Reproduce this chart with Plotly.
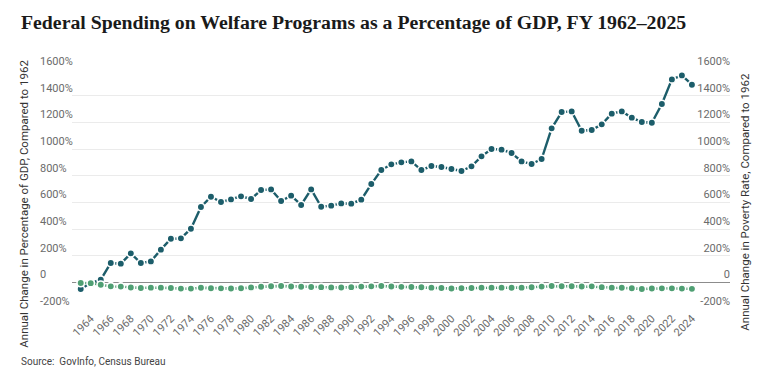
import plotly.graph_objects as go

years = list(range(1963, 2025))

welfare_gdp_change = [
    -50, -5, 20, 145, 140, 217, 145, 157, 245, 327,
    330, 402, 565, 642, 602, 622, 645, 625, 692, 697,
    610, 650, 580, 697, 567, 575, 592, 590, 620, 737,
    842, 885, 900, 907, 842, 872, 865, 850, 835, 870,
    945, 1000, 995, 970, 907, 887, 925, 1155, 1277, 1282,
    1137, 1142, 1185, 1265, 1282, 1235, 1202, 1197, 1337, 1522,
    1552, 1482,
]

poverty_rate_change = [
    -5, -6, -18, -30, -32, -39, -42, -40, -40, -43,
    -47, -47, -41, -44, -45, -46, -44, -38, -33, -29,
    -28, -31, -33, -35, -36, -38, -39, -36, -32, -30,
    -28, -31, -34, -35, -37, -40, -43, -46, -44, -42,
    -40, -40, -40, -41, -40, -37, -32, -28, -29, -29,
    -31, -30, -36, -40, -41, -44, -50, -46, -45, -45,
    -47, -49,
]

x_tick_years = list(range(1964, 2025, 2))
y_ticks = [-200, 0, 200, 400, 600, 800, 1000, 1200, 1400, 1600]
y_tick_text = ["-200%", "0", "200%", "400%", "600%", "800%", "1000%", "1200%", "1400%", "1600%"]

title_text = "Federal Spending on Welfare Programs as a Percentage of GDP, FY 1962\u20132025"
left_title = "Annual Change in Percentage of GDP, Compared to 1962"
right_title = "Annual Change in Poverty Rate, Compared to 1962"
source_text = "Source:  GovInfo, Census Bureau"

DARK = "#1c5d6a"
GREEN = "#4f9f73"

# the page body adds an 8px margin; the figure is sized/placed to compensate
OFF = 8
W, H = 754, 367
ML, MR = 28, 29
MT = 69.3 - OFF
MB = H - (309.3 - OFF)
pw = W - ML - MR
ph = H - MT - MB


def px_x(sx):
    return (sx - OFF - ML) / pw


def px_y(sy):
    return (H - MB - (sy - OFF)) / ph


Y_RANGE = [-200, 1600]

fig = go.Figure()
fig.add_trace(go.Scatter(
    x=years, y=welfare_gdp_change, mode="lines+markers", name="Welfare spending",
    line=dict(color=DARK, width=2.4),
    marker=dict(color=DARK, size=7.5, line=dict(color="white", width=1.6)), yaxis="y",
))
fig.add_trace(go.Scatter(
    x=years, y=poverty_rate_change, mode="lines+markers", name="Poverty rate",
    line=dict(color=GREEN, width=2.4),
    marker=dict(color=GREEN, size=7.5, line=dict(color="white", width=1.6)), yaxis="y",
))
# invisible anchors so the label-only axes get drawn
for ax in ("y2", "y3"):
    fig.add_trace(go.Scatter(x=[years[0]], y=[0], mode="markers", yaxis=ax,
                             marker=dict(opacity=0), hoverinfo="skip", showlegend=False))

tick_font = dict(family="Roboto, Arial, sans-serif", size=11, color="#6b6b6b")
axis_title_font = dict(family="Roboto, Arial, sans-serif", size=11.5, color="#333333")

fig.update_layout(
    width=W, height=H,
    margin=dict(l=ML, r=MR, t=MT, b=MB, autoexpand=False),
    paper_bgcolor="white", plot_bgcolor="white",
    showlegend=False,
    xaxis=dict(
        domain=[px_x(72), px_x(730)],
        range=[1962.13, 2027.8],
        tickmode="array", tickvals=x_tick_years,
        ticktext=[str(y) for y in x_tick_years],
        tickangle=-45, tickfont=tick_font,
        showgrid=False, zeroline=False, showline=False, ticks="",
        anchor="y", automargin=False,
    ),
    yaxis=dict(
        range=Y_RANGE, tickmode="array", tickvals=y_ticks,
        showticklabels=False, anchor="x",
        showgrid=True, gridcolor="#ebebeb", gridwidth=1,
        zeroline=True, zerolinecolor="#8c8c8c", zerolinewidth=1,
        showline=False, ticks="", automargin=False,
    ),
    yaxis2=dict(
        range=Y_RANGE, tickmode="array", tickvals=y_ticks, ticktext=y_tick_text,
        tickfont=tick_font, overlaying="y", side="right", anchor="free", position=1,
        ticklabelposition="inside top", ticklabeloverflow="allow",
        showgrid=False, zeroline=False, showline=False, ticks="", automargin=False,
    ),
    yaxis3=dict(
        range=Y_RANGE, tickmode="array", tickvals=y_ticks, ticktext=y_tick_text,
        tickfont=tick_font, overlaying="y", side="left", anchor="free", position=0,
        ticklabelposition="inside top", ticklabeloverflow="allow",
        showgrid=False, zeroline=False, showline=False, ticks="", automargin=False,
    ),
)

fig.add_annotation(
    text="<b>" + title_text + "</b>", xref="paper", yref="paper",
    x=px_x(19), y=px_y(22), xanchor="left", yanchor="middle",
    showarrow=False, font=dict(family="Liberation Serif, Times New Roman, serif", size=19.8, color="#1a1a1a"),
)
fig.add_annotation(
    text=left_title, xref="paper", yref="paper", textangle=-90,
    x=px_x(24), y=px_y(204), xanchor="center", yanchor="middle",
    showarrow=False, font=axis_title_font,
)
fig.add_annotation(
    text=right_title, xref="paper", yref="paper", textangle=-90,
    x=px_x(745), y=px_y(202), xanchor="center", yanchor="middle",
    showarrow=False, font=axis_title_font,
)
fig.add_annotation(
    text=source_text, xref="paper", yref="paper",
    x=px_x(19), y=px_y(362), xanchor="left", yanchor="middle",
    showarrow=False, font=dict(family="Roboto, Arial, sans-serif", size=10, color="#444444"),
)

fig.write_html("out.html")
